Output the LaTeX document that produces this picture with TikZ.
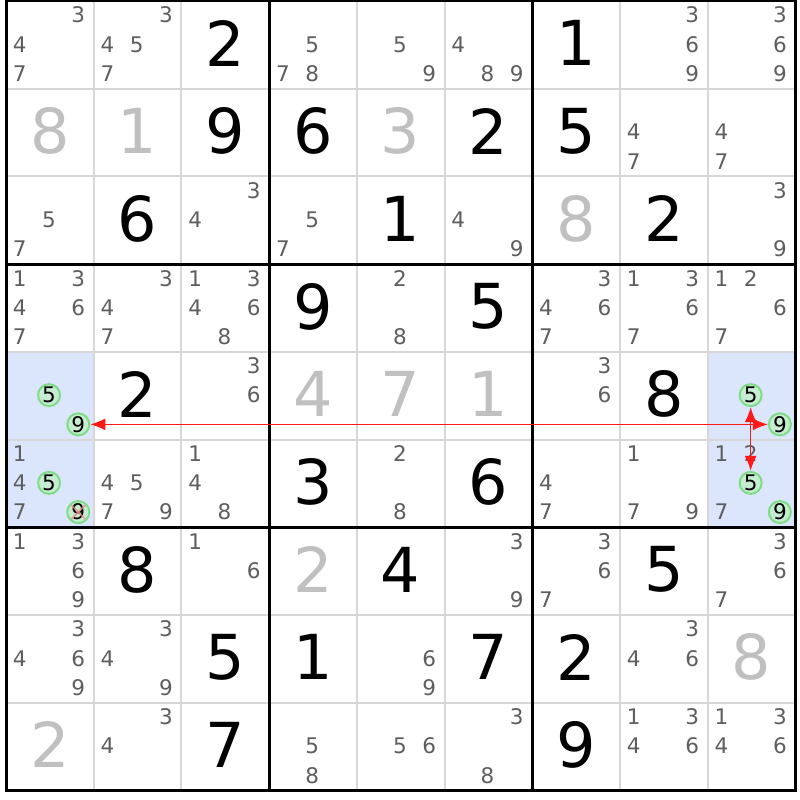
\documentclass[tikz,border=0pt]{standalone}
\usepackage{fontspec}
\setmainfont{DejaVu Sans}
\usetikzlibrary{arrows.meta}
\definecolor{candgray}{HTML}{5E5E5E}
\definecolor{solgray}{HTML}{C0C0C0}
\definecolor{hlblue}{HTML}{DBE5FB}
\definecolor{thinline}{HTML}{D7D7D7}
\definecolor{ringgreen}{HTML}{7EDC86}
\definecolor{ringfill}{HTML}{C6EDD2}
\definecolor{linkred}{HTML}{FF1A1A}
\definecolor{crossred}{HTML}{F08A8A}
\tikzset{
  given/.style={inner sep=0pt, font=\fontsize{62}{62}\selectfont, text=black},
  solved/.style={inner sep=0pt, font=\fontsize{62}{62}\selectfont, text=solgray},
  cand/.style={inner sep=0pt, font=\fontsize{21.5}{21.5}\selectfont, text=candgray},
  ring/.style={circle, draw=ringgreen, line width=2pt, fill=ringfill, minimum size=22pt, inner sep=0pt, font=\fontsize{21.5}{21.5}\selectfont, text=black},
  link/.style={draw=linkred, line width=1.5pt, {Latex[length=15pt,width=12pt]}-{Latex[length=15pt,width=12pt]}},
}
\newcommand\CL{87.7}
\newcommand\giv[3]{\node[given] (g#1#2) at ({6+(#2-0.5)*\CL},{1+(#1-0.5)*\CL-1.5}) {#3};}
\newcommand\sol[3]{\node[solved] (s#1#2) at ({6+(#2-0.5)*\CL},{1+(#1-0.5)*\CL-1.5}) {#3};}
\newcommand\cand[3]{%
  \foreach \d in {#3}{%
    \pgfmathtruncatemacro\cx{mod(\d-1,3)}%
    \pgfmathtruncatemacro\cy{int((\d-1)/3)}%
    \node[cand] (c#1#2\d) at ({6+(#2-1)*\CL+(\cx+0.5)*\CL/3-0.8},{1+(#1-1)*\CL+(\cy+0.5)*\CL/3-0.5}) {\d};
  }}
\newcommand\rcand[4]{%
    \pgfmathtruncatemacro\cx{mod(#3-1,3)}%
    \pgfmathtruncatemacro\cy{int((#3-1)/3)}%
    \node[ring] (#4) at ({6+(#2-1)*\CL+(\cx+0.5)*\CL/3-0.8},{1+(#1-1)*\CL+(\cy+0.5)*\CL/3-0.5}) {#3};}
\begin{document}
\begin{tikzpicture}[x=1pt,y=-1pt]
\useasboundingbox (0,0) rectangle (800,800);
\fill[white] (0,0) rectangle (800,800);
% highlighted cells
\fill[hlblue] (6,{1+4*\CL}) rectangle ({6+\CL},{1+6*\CL});
\fill[hlblue] ({6+8*\CL},{1+4*\CL}) rectangle ({6+9*\CL},{1+6*\CL});
% thin lines
\foreach \i in {1,2,4,5,7,8}{
  \draw[thinline, line width=2pt] ({6+\i*\CL},1) -- ({6+\i*\CL},{1+9*\CL});
  \draw[thinline, line width=2pt] (6,{1+\i*\CL}) -- ({6+9*\CL},{1+\i*\CL});
}
% thick lines
\foreach \i in {0,3,6,9}{
  \draw[black, line width=3pt] ({6+\i*\CL},-0.5) -- ({6+\i*\CL},{2.5+9*\CL});
  \draw[black, line width=3pt] (4.5,{1+\i*\CL}) -- ({7.5+9*\CL},{1+\i*\CL});
}
% row 1
\cand{1}{1}{3,4,7}\cand{1}{2}{3,4,5,7}\giv{1}{3}{2}\cand{1}{4}{5,7,8}\cand{1}{5}{5,9}\cand{1}{6}{4,8,9}\giv{1}{7}{1}\cand{1}{8}{3,6,9}\cand{1}{9}{3,6,9}
% row 2
\sol{2}{1}{8}\sol{2}{2}{1}\giv{2}{3}{9}\giv{2}{4}{6}\sol{2}{5}{3}\giv{2}{6}{2}\giv{2}{7}{5}\cand{2}{8}{4,7}\cand{2}{9}{4,7}
% row 3
\cand{3}{1}{5,7}\giv{3}{2}{6}\cand{3}{3}{3,4}\cand{3}{4}{5,7}\giv{3}{5}{1}\cand{3}{6}{4,9}\sol{3}{7}{8}\giv{3}{8}{2}\cand{3}{9}{3,9}
% row 4
\cand{4}{1}{1,3,4,6,7}\cand{4}{2}{3,4,7}\cand{4}{3}{1,3,4,6,8}\giv{4}{4}{9}\cand{4}{5}{2,8}\giv{4}{6}{5}\cand{4}{7}{3,4,6,7}\cand{4}{8}{1,3,6,7}\cand{4}{9}{1,2,6,7}
% row 5
\rcand{5}{1}{5}{a5}\rcand{5}{1}{9}{a9}\giv{5}{2}{2}\cand{5}{3}{3,6}\sol{5}{4}{4}\sol{5}{5}{7}\sol{5}{6}{1}\cand{5}{7}{3,6}\giv{5}{8}{8}\rcand{5}{9}{5}{b5}\rcand{5}{9}{9}{b9}
% row 6
\cand{6}{1}{1,4,7}\rcand{6}{1}{5}{c5}\rcand{6}{1}{9}{c9}\cand{6}{2}{4,5,7,9}\cand{6}{3}{1,4,8}\giv{6}{4}{3}\cand{6}{5}{2,8}\giv{6}{6}{6}\cand{6}{7}{4,7}\cand{6}{8}{1,7,9}\cand{6}{9}{1,2,7}\rcand{6}{9}{5}{d5}\rcand{6}{9}{9}{d9}
% row 7
\cand{7}{1}{1,3,6,9}\giv{7}{2}{8}\cand{7}{3}{1,6}\sol{7}{4}{2}\giv{7}{5}{4}\cand{7}{6}{3,9}\cand{7}{7}{3,6,7}\giv{7}{8}{5}\cand{7}{9}{3,6,7}
% row 8
\cand{8}{1}{3,4,6,9}\cand{8}{2}{3,4,9}\giv{8}{3}{5}\giv{8}{4}{1}\cand{8}{5}{6,9}\giv{8}{6}{7}\giv{8}{7}{2}\cand{8}{8}{3,4,6}\sol{8}{9}{8}
% row 9
\sol{9}{1}{2}\cand{9}{2}{3,4}\giv{9}{3}{7}\cand{9}{4}{5,8}\cand{9}{5}{5,6}\cand{9}{6}{3,8}\giv{9}{7}{9}\cand{9}{8}{1,3,4,6}\cand{9}{9}{1,3,4,6}
% elimination cross
\draw[crossred, line width=1.6pt, opacity=0.8] ([shift={(-7,-7)}]c9.center) -- ([shift={(7,7)}]c9.center);
\draw[crossred, line width=1.6pt, opacity=0.8] ([shift={(-7,7)}]c9.center) -- ([shift={(7,-7)}]c9.center);
% links
\draw[link] (a9) -- (b9);
\draw[link] (b5) -- (d5);
\end{tikzpicture}
\end{document}
